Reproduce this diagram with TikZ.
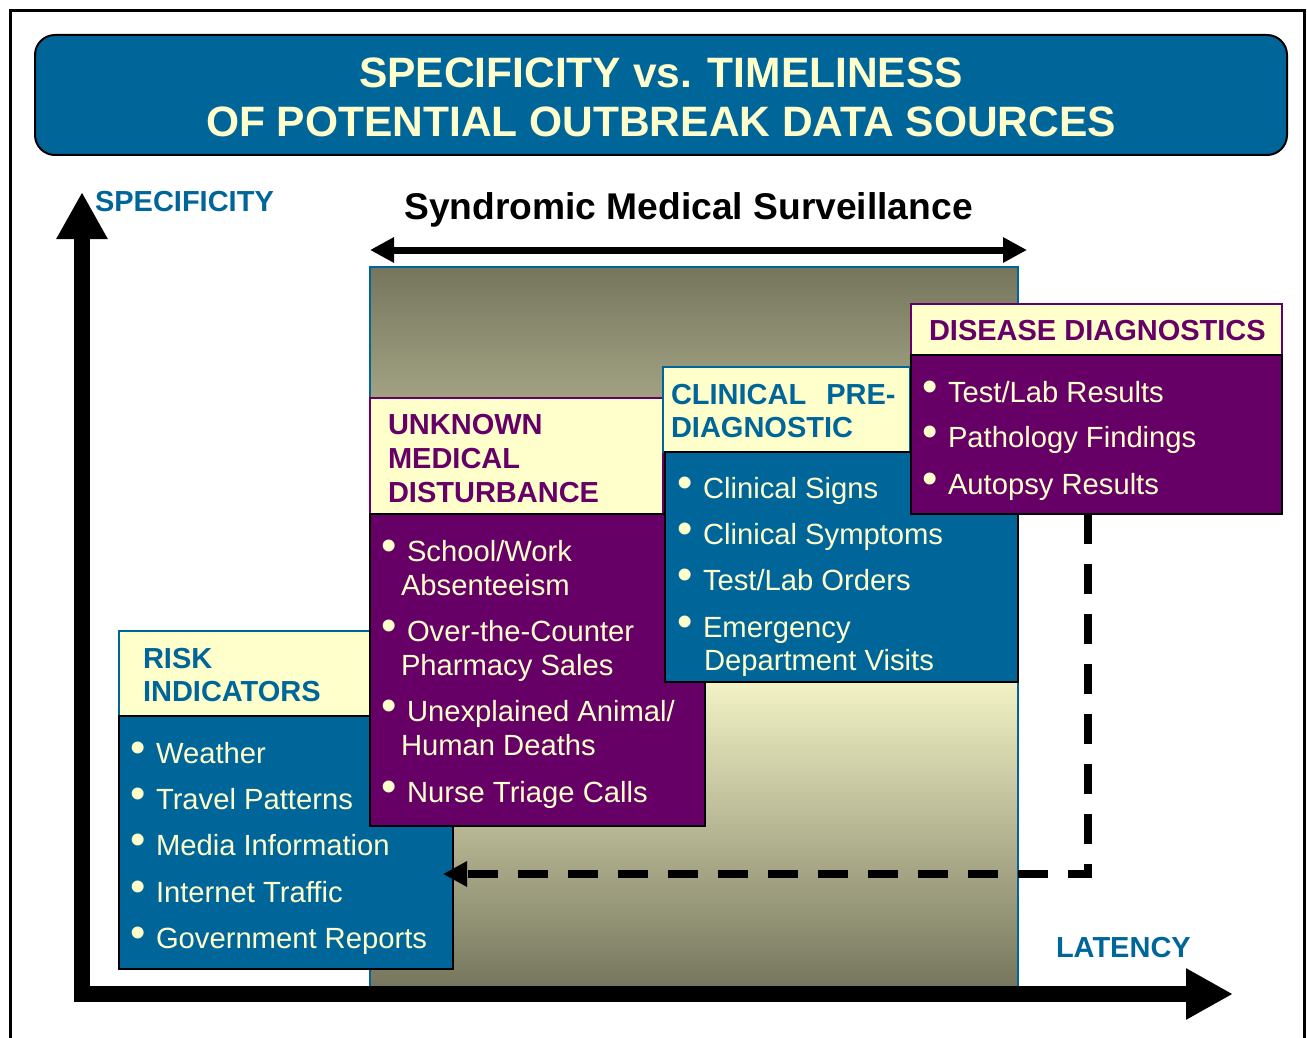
\documentclass[tikz,border=0pt]{standalone}
\usepackage{fontspec}
\setmainfont{Liberation Sans}
\usetikzlibrary{arrows.meta,fit}

\definecolor{cdcblue}{RGB}{0,102,153}
\definecolor{cdcpurple}{RGB}{102,0,102}
\definecolor{cdccream}{RGB}{255,255,204}
\definecolor{cdcolive}{RGB}{118,118,94}
\definecolor{cdclight}{RGB}{250,250,204}
\pgfdeclareverticalshading{surveil}{100bp}{color(0bp)=(cdcolive); color(25bp)=(cdcolive); color(47.5bp)=(cdclight); color(75bp)=(cdcolive); color(100bp)=(cdcolive)}
\newcommand{\bul}{\llap{\raisebox{0.02em}{\scalebox{1.5}{\textbullet}}\hspace{5pt}}}

\begin{document}
\begin{tikzpicture}[x=0.5pt,y=-0.5pt,inner sep=0pt,outer sep=0pt,
hdrbox/.style={rectangle,fill=cdccream,line width=1pt},
bodybox/.style={rectangle,draw=black,line width=1pt},
titletext/.style={anchor=base,text=cdccream,font=\fontsize{21.25}{25}\selectfont\bfseries},
hdrtext/.style={anchor=base west,font=\fontsize{14.5}{17}\selectfont\bfseries},
itemtext/.style={anchor=base west,text=cdccream,font=\fontsize{14.6}{17}\selectfont},
axisline/.style={line width=8pt,-{Triangle[width=24pt,length=23.5pt]}},
spanarrow/.style={line width=3.5pt,{Triangle[width=12pt,length=12pt]}-{Triangle[width=12pt,length=12pt]}},
dasharrow/.style={line width=4pt,dash pattern=on 15pt off 10pt,shorten >=-5pt,-{Triangle[width=12pt,length=12pt]}}]

\useasboundingbox (0,0) rectangle (1307,1038);

% frame and title
\draw[line width=1.5pt] (10,10.5) rectangle (1304.5,1060);
\node[fit={(35,35) (1287,155)},draw,fill=cdcblue,rounded corners=10pt,line width=1pt] (titlebox) {};
\draw (661,88) node[titletext] (title1) {SPECIFICITY vs. TIMELINESS};
\draw (661,137) node[titletext] (title2) {OF POTENTIAL OUTBREAK DATA SOURCES};

% surveillance band
\node[fit={(370,267) (1018,987)},shade,shading=surveil,draw=cdcblue,line width=0.75pt] (band) {};
\draw (688.5,220) node[anchor=base,font=\fontsize{18.6}{22}\selectfont\bfseries] (synd) {Syndromic Medical Surveillance};
\coordinate (bandL) at (370,250);
\coordinate (bandR) at (1027,250);
\draw[spanarrow] (bandL) -- (bandR);

% risk indicators
\node[hdrbox,draw=cdcblue,fit={(119,631) (370,716)}] (riskH) {};
\node[bodybox,fill=cdcblue,fit={(119,716) (453,969)}] (riskB) {};
\draw (143,668) node[hdrtext,text=cdcblue] (riskT1) {RISK};
\draw (143,701) node[hdrtext,text=cdcblue] (riskT2) {INDICATORS};
\draw (156,763) node[itemtext] (risk1) {\bul Weather};
\draw (156,809) node[itemtext] (risk2) {\bul Travel Patterns};
\draw (156,855) node[itemtext] (risk3) {\bul Media Information};
\draw (156,902) node[itemtext] (risk4) {\bul Internet Traffic};
\draw (156,948) node[itemtext] (risk5) {\bul Government Reports};

% unknown medical disturbance
\node[hdrbox,draw=cdcpurple,fit={(370,398) (663,514)}] (unkH) {};
\node[bodybox,fill=cdcpurple,fit={(370,514) (705,826)}] (unkB) {};
\draw (388,434) node[hdrtext,text=cdcpurple] (unkT1) {UNKNOWN};
\draw (388,468) node[hdrtext,text=cdcpurple] (unkT2) {MEDICAL};
\draw (388,502) node[hdrtext,text=cdcpurple] (unkT3) {DISTURBANCE};
\draw (407,561) node[itemtext] (unk1a) {\bul School/Work};
\draw (401,595) node[itemtext] (unk1b) {Absenteeism};
\draw (407,641) node[itemtext] (unk2a) {\bul Over-the-Counter};
\draw (401,675) node[itemtext] (unk2b) {Pharmacy Sales};
\draw (407,721) node[itemtext] (unk3a) {\bul Unexplained Animal/};
\draw (401,755) node[itemtext] (unk3b) {Human Deaths};
\draw (407,802) node[itemtext] (unk4) {\bul Nurse Triage Calls};

% clinical pre-diagnostic
\node[hdrbox,draw=cdcblue,fit={(663,367) (910,452)}] (cliH) {};
\node[bodybox,fill=cdcblue,fit={(665,452) (1018,682)}] (cliB) {};
\draw (671,404) node[hdrtext,text=cdcblue] (cliT1) {CLINICAL\hspace{10pt}PRE-};
\draw (671,437) node[hdrtext,text=cdcblue] (cliT2) {DIAGNOSTIC};
\draw (703,498) node[itemtext] (cli1) {\bul Clinical Signs};
\draw (703,544) node[itemtext] (cli2) {\bul Clinical Symptoms};
\draw (703,590) node[itemtext] (cli3) {\bul Test/Lab Orders};
\draw (703,637) node[itemtext] (cli4a) {\bul Emergency};
\draw (704,670) node[itemtext] (cli4b) {Department Visits};

% disease diagnostics
\node[hdrbox,draw=cdcpurple,fit={(911,304) (1282,355)}] (disH) {};
\node[bodybox,fill=cdcpurple,fit={(911,355) (1282,514)}] (disB) {};
\draw (929,340) node[hdrtext,text=cdcpurple] (disT) {DISEASE DIAGNOSTICS};
\draw (948,402) node[itemtext] (dis1) {\bul Test/Lab Results};
\draw (948,447) node[itemtext] (dis2) {\bul Pathology Findings};
\draw (948,494) node[itemtext] (dis3) {\bul Autopsy Results};

% feedback to risk indicators
\coordinate (dashturn) at (1088,874);
\draw[dasharrow] (disB.south -| dashturn) -- (dashturn) -- (riskB.east |- dashturn);

% axes
\coordinate (yfoot) at (82,1001);
\coordinate (ytip) at (82,192);
\coordinate (xfoot) at (74,994);
\coordinate (xtip) at (1233,994);
\draw[axisline] (yfoot) -- (ytip);
\draw[axisline] (xfoot) -- (xtip);
\draw (95,212) node[hdrtext,text=cdcblue] (spec) {SPECIFICITY};
\draw (1056,957) node[hdrtext,text=cdcblue] (lat) {LATENCY};
\end{tikzpicture}
\end{document}
